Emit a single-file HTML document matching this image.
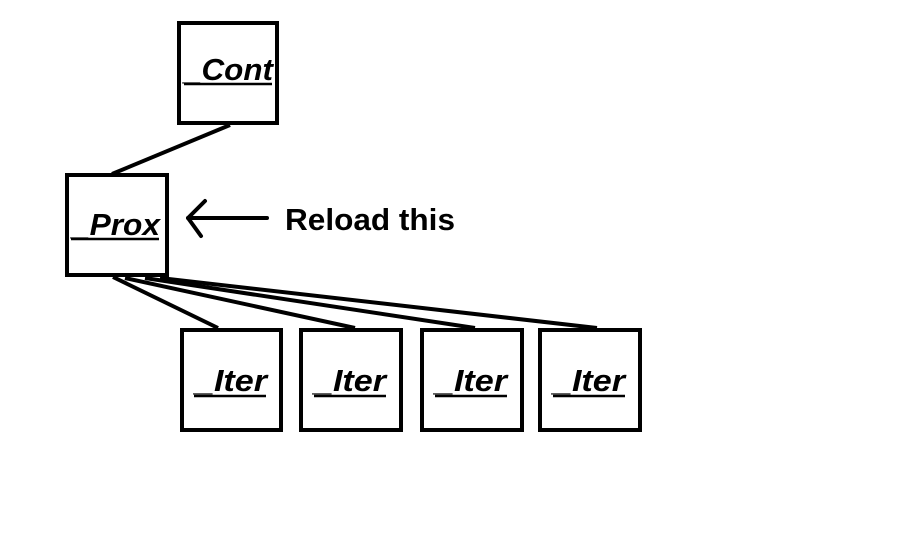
<!DOCTYPE html>
<html><head><style>html,body{margin:0;padding:0;background:#fff}</style></head>
<body>
<svg width="898" height="555" viewBox="0 0 898 555" xmlns="http://www.w3.org/2000/svg">
<rect width="898" height="555" fill="#fff"/>
<g fill="none" stroke="#000" stroke-width="4">
<rect x="179" y="23" width="98" height="100"/>
<rect x="67" y="175" width="100" height="100"/>
<rect x="182" y="330" width="99" height="100"/>
<rect x="301" y="330" width="100" height="100"/>
<rect x="422" y="330" width="100" height="100"/>
<rect x="540" y="330" width="100" height="100"/>
<line x1="230" y1="125" x2="112" y2="174"/>
<line x1="113" y1="277" x2="218" y2="328"/>
<line x1="125" y1="278" x2="355" y2="328"/>
<line x1="145" y1="278" x2="475" y2="328"/>
<line x1="160" y1="278" x2="597" y2="328"/>
<line x1="188" y1="218" x2="267" y2="218" stroke-linecap="round"/>
<polyline points="205,201 188,218 201,236" stroke-linecap="round" stroke-linejoin="round"/>
</g>
<g font-family="Liberation Sans, sans-serif" font-weight="bold" font-style="italic" font-size="31" fill="#000">
<text x="184" y="80" textLength="89" lengthAdjust="spacingAndGlyphs">_Cont</text>
<text x="72" y="235" textLength="88" lengthAdjust="spacingAndGlyphs">_Prox</text>
<text x="195" y="391" textLength="72" lengthAdjust="spacingAndGlyphs">_Iter</text>
<text x="314" y="391" textLength="72" lengthAdjust="spacingAndGlyphs">_Iter</text>
<text x="435" y="391" textLength="72" lengthAdjust="spacingAndGlyphs">_Iter</text>
<text x="553" y="391" textLength="72" lengthAdjust="spacingAndGlyphs">_Iter</text>
</g>
<g stroke="#000" stroke-width="2.5">
<line x1="184" y1="84" x2="272" y2="84"/>
<line x1="71" y1="239" x2="159" y2="239"/>
<line x1="194" y1="396" x2="266" y2="396"/>
<line x1="314" y1="396" x2="386" y2="396"/>
<line x1="435" y1="396" x2="507" y2="396"/>
<line x1="553" y1="396" x2="625" y2="396"/>
</g>
<text x="285" y="230" font-family="Liberation Sans, sans-serif" font-weight="bold" font-size="31" fill="#000" textLength="170" lengthAdjust="spacingAndGlyphs">Reload this</text>
</svg>
</body></html>
